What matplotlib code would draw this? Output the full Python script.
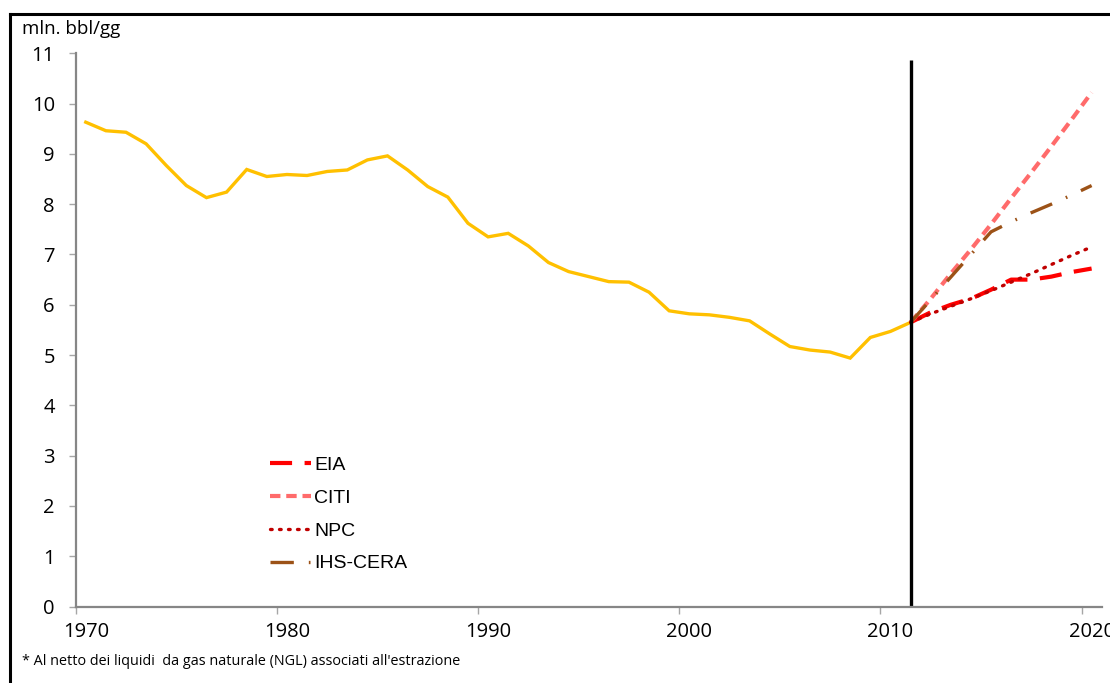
import numpy as np
import matplotlib
matplotlib.use('Agg')
import matplotlib.pyplot as plt
from matplotlib.lines import Line2D

# Historical production (mln. bbl/gg), 1970-2011
years = list(range(1970, 2012))
production = [9.63, 9.46, 9.43, 9.20, 8.77, 8.37, 8.13, 8.24, 8.69, 8.55,
              8.59, 8.57, 8.65, 8.68, 8.88, 8.96, 8.68, 8.35, 8.14, 7.62,
              7.35, 7.42, 7.17, 6.84, 6.66, 6.56, 6.46, 6.45, 6.25, 5.88,
              5.82, 5.80, 5.75, 5.68, 5.42, 5.17, 5.10, 5.06, 4.94, 5.35,
              5.47, 5.65]

# Forecasts 2011-2020
fc_years = list(range(2011, 2021))
eia = [5.65, 5.85, 6.00, 6.12, 6.30, 6.50, 6.50, 6.56, 6.65, 6.72]
citi = [5.65, 6.12, 6.62, 7.10, 7.60, 8.12, 8.63, 9.15, 9.68, 10.22]
npc = [5.65, 5.82, 5.97, 6.12, 6.28, 6.45, 6.62, 6.80, 6.98, 7.15]
ihs = [5.65, 6.10, 6.55, 7.00, 7.45, 7.65, 7.83, 8.00, 8.18, 8.37]

tick_years = [1970, 1980, 1990, 2000, 2010, 2020]

plt.rcParams['font.family'] = ['Open Sans', 'DejaVu Sans']

fig = plt.figure(figsize=(11.1, 6.83), dpi=100)
ax = fig.add_axes([0.0682, 0.1119, 0.9243, 0.8101])

ax.plot(years, production, color='#FFC000', linewidth=2.4, solid_joinstyle='miter')

ax.plot(fc_years, eia, color='#FF0000', linewidth=3, dashes=(5.3, 3), label='EIA')
ax.plot(fc_years, citi, color='#FF6B6B', linewidth=3, dashes=(2.5, 1.4), label='CITI')
ax.plot(fc_years, npc, color='#C00000', linewidth=2.4, dashes=(0.5, 2.2),
        dash_capstyle='round', label='NPC')
ax.plot(fc_years, ihs, color='#9C5217', linewidth=2.4, dashes=(7, 4.5, 0.5, 4.5), label='IHS-CERA')

# separator between history and forecasts
ax.vlines(2011, 0, 10.87, color='black', linewidth=2.4)

ax.set_xlim(1969.5, 2020.5)
ax.set_ylim(0, 11)

ax.set_xticks([y - 0.5 for y in tick_years])
ax.set_xticklabels([])
ax.set_xticks(tick_years, minor=True)
ax.set_xticklabels([str(y) for y in tick_years], minor=True)
ax.tick_params(axis='x', which='major', length=5, width=1, color='#A6A6A6')
ax.tick_params(axis='x', which='minor', length=0, pad=11, labelsize=14.5)

ax.set_yticks(range(0, 12))
ax.tick_params(axis='y', length=5, width=1, color='#A6A6A6', labelsize=14.5, pad=10)

for side in ['top', 'right']:
    ax.spines[side].set_visible(False)
for side in ['left', 'bottom']:
    ax.spines[side].set_color('#868686')
    ax.spines[side].set_linewidth(1.6)

leg = ax.legend(loc='lower left', bbox_to_anchor=(0.172, 0.03), frameon=False,
                handlelength=2.15, handletextpad=0.15, labelspacing=0.78,
                prop={'family': 'Liberation Sans', 'size': 14})

fig.text(0.020, 0.957, 'mln. bbl/gg', fontsize=13.5, va='center', ha='left')
fig.text(0.020, 0.031, "* Al netto dei liquidi  da gas naturale (NGL) associati all'estrazione",
         fontsize=10.4, va='center', ha='left')

# outer frame (left and top edges visible)
fig.add_artist(Line2D([0.0086, 0.0086], [-0.01, 0.9795], color='black', linewidth=2.2,
                      transform=fig.transFigure))
fig.add_artist(Line2D([0.0086, 1.01], [0.9795, 0.9795], color='black', linewidth=2.2,
                      transform=fig.transFigure))

fig.savefig('out.png', dpi=100)
